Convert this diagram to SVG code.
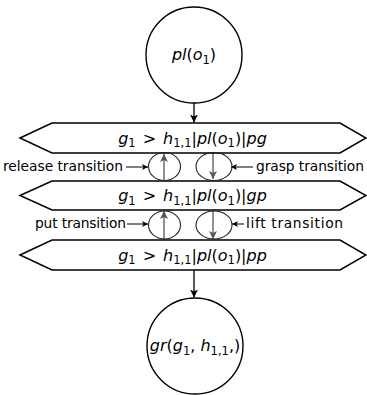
<svg xmlns="http://www.w3.org/2000/svg" width="367" height="395" viewBox="0 0 367 395">
<defs>
<style>
.node{fill:#fff;stroke:#000;stroke-width:1.4}
.hex{fill:#fff;stroke:#000;stroke-width:1.5}
.ell{fill:none;stroke:#222;stroke-width:1.1}
.m{font-family:"DejaVu Sans",sans-serif;font-size:16px;fill:#000}
.i{font-style:italic}
.s{font-size:11.5px}
.lbl{font-family:"DejaVu Sans",sans-serif;font-size:13.8px;fill:#000}
.main{stroke:#000;stroke-width:1.3;fill:none}
.gray{stroke:#555;stroke-width:1.3;fill:none}
.thin{stroke:#000;stroke-width:1;fill:none}
</style>
<marker id="ah" markerWidth="9" markerHeight="8" refX="8" refY="4" orient="auto" markerUnits="userSpaceOnUse">
<path d="M0,0 L8,4 L0,8 L2,4 z" fill="#000"/>
</marker>
<marker id="ahg" markerWidth="9" markerHeight="8" refX="8" refY="4" orient="auto" markerUnits="userSpaceOnUse">
<path d="M0,0 L8,4 L0,8 L2,4 z" fill="#555"/>
</marker>
<marker id="ahs" markerWidth="7" markerHeight="6" refX="6" refY="3" orient="auto" markerUnits="userSpaceOnUse">
<path d="M0,0 L6,3 L0,6 L1.5,3 z" fill="#000"/>
</marker>
</defs>

<g id="edges">
<line class="main" x1="194" y1="103" x2="194" y2="122.5" marker-end="url(#ah)"/>
<line class="main" x1="194" y1="270" x2="194" y2="297.5" marker-end="url(#ah)"/>
<line class="gray" x1="164" y1="180" x2="164" y2="154" marker-end="url(#ahg)"/>
<line class="gray" x1="213" y1="153" x2="213" y2="179" marker-end="url(#ahg)"/>
<line class="gray" x1="164" y1="240" x2="164" y2="211" marker-end="url(#ahg)"/>
<line class="gray" x1="213" y1="210" x2="213" y2="239" marker-end="url(#ahg)"/>
<line class="thin" x1="126" y1="167" x2="148" y2="167" marker-end="url(#ahs)"/>
<line class="thin" x1="253" y1="167" x2="231" y2="167" marker-end="url(#ahs)"/>
<line class="thin" x1="127" y1="224" x2="148" y2="224" marker-end="url(#ahs)"/>
<line class="thin" x1="244" y1="224" x2="232" y2="224" marker-end="url(#ahs)"/>
</g>

<g id="pl_o1">
<circle class="node" cx="194" cy="55" r="48"/>
<text class="m" x="194" y="60" text-anchor="middle"><tspan class="i">pl</tspan>(<tspan class="i">o</tspan><tspan class="s" dy="3.5">1</tspan><tspan dy="-3.5">)</tspan></text>
</g>

<g id="state_pg">
<polygon class="hex" points="20,138 52,123 340,123 366,138 340,153 52,153"/>
<text class="m" x="192.5" y="143.5" text-anchor="middle"><tspan class="i">g</tspan><tspan class="s" dy="3.5">1</tspan><tspan dy="-3.5" dx="7">&gt;</tspan><tspan class="i" dx="7">h</tspan><tspan class="s" dy="3.5">1,1</tspan><tspan dy="-3.5">|</tspan><tspan class="i">pl</tspan>(<tspan class="i">o</tspan><tspan class="s" dy="3.5">1</tspan><tspan dy="-3.5">)|</tspan><tspan class="i">pg</tspan></text>
</g>

<g id="state_gp">
<polygon class="hex" points="20,195.5 52,181 340,181 366,195.5 340,210 52,210"/>
<text class="m" x="192.5" y="201" text-anchor="middle"><tspan class="i">g</tspan><tspan class="s" dy="3.5">1</tspan><tspan dy="-3.5" dx="7">&gt;</tspan><tspan class="i" dx="7">h</tspan><tspan class="s" dy="3.5">1,1</tspan><tspan dy="-3.5">|</tspan><tspan class="i">pl</tspan>(<tspan class="i">o</tspan><tspan class="s" dy="3.5">1</tspan><tspan dy="-3.5">)|</tspan><tspan class="i">gp</tspan></text>
</g>

<g id="state_pp">
<polygon class="hex" points="20,255 52,240 340,240 366,255 340,270 52,270"/>
<text class="m" x="192.5" y="260.5" text-anchor="middle"><tspan class="i">g</tspan><tspan class="s" dy="3.5">1</tspan><tspan dy="-3.5" dx="7">&gt;</tspan><tspan class="i" dx="7">h</tspan><tspan class="s" dy="3.5">1,1</tspan><tspan dy="-3.5">|</tspan><tspan class="i">pl</tspan>(<tspan class="i">o</tspan><tspan class="s" dy="3.5">1</tspan><tspan dy="-3.5">)|</tspan><tspan class="i">pp</tspan></text>
</g>

<g id="release">
<ellipse class="ell" cx="164.5" cy="166.5" rx="16" ry="14"/>
<text class="lbl" x="3" y="171" textLength="120" lengthAdjust="spacing">release transition</text>
</g>
<g id="grasp">
<ellipse class="ell" cx="214" cy="166.5" rx="18" ry="14"/>
<text class="lbl" x="256" y="171" textLength="108" lengthAdjust="spacing">grasp transition</text>
</g>
<g id="put">
<ellipse class="ell" cx="164.5" cy="225" rx="16" ry="14"/>
<text class="lbl" x="35" y="228" textLength="91" lengthAdjust="spacing">put transition</text>
</g>
<g id="lift">
<ellipse class="ell" cx="214" cy="225" rx="18" ry="14"/>
<text class="lbl" x="246" y="228" textLength="97" lengthAdjust="spacing">lift transition</text>
</g>

<g id="gr">
<circle class="node" cx="195" cy="346" r="48"/>
<text class="m" x="195" y="351" text-anchor="middle"><tspan class="i">gr</tspan>(<tspan class="i">g</tspan><tspan class="s" dy="3.5">1</tspan><tspan dy="-3.5">, </tspan><tspan class="i">h</tspan><tspan class="s" dy="3.5">1,1</tspan><tspan dy="-3.5">,)</tspan></text>
</g>
</svg>
